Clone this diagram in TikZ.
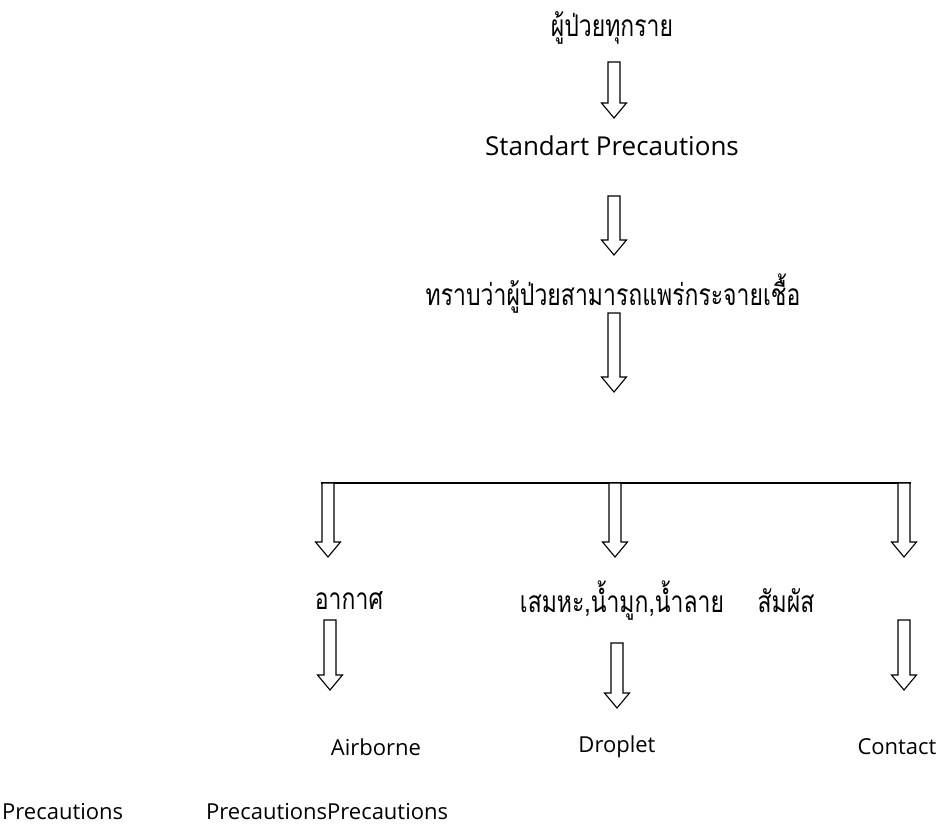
\documentclass[tikz,border=0pt]{standalone}
\usepackage{fontspec}
\setmainfont{Open Sans}
\newfontfamily\thaifont[Script=Thai]{Loma}
\newcommand\thtext[1]{\scalebox{1}[1.3]{#1}}
\begin{document}
\begin{tikzpicture}[x=1pt,y=-1pt,
  lat/.style={font=\fontsize{26}{30}\selectfont, inner sep=0pt},
  latb/.style={font=\fontsize{22}{26}\selectfont, inner sep=0pt},
  tha/.style={font=\thaifont\fontsize{23}{27}\selectfont, inner sep=0pt},
  arrowline/.style={draw=black, fill=white, line width=1.1pt, line join=miter}]
\useasboundingbox (0,0) rectangle (938,840);
\newcommand\blkarrow[3]{%
  \draw[arrowline] (#1-6,#2) -- (#1+6,#2) -- (#1+6,#3-15) -- (#1+12.5,#3-15)
    -- (#1,#3) -- (#1-12.5,#3-15) -- (#1-6,#3-15) -- cycle;}
% texts
\node[tha] (n1) at (612,28) {\thtext{ผู้ป่วยทุกราย}};
\node[lat] (n2) at (612,146) {Standart Precautions};
\node[tha] (n3) at (613,294) {\thtext{ทราบว่าผู้ป่วยสามารถแพร่กระจายเชื้อ}};
\node[tha] (t1) at (349,601) {\thtext{อากาศ}};
\node[tha] (t2) at (622,601) {\thtext{เสมหะ,น้ำมูก,น้ำลาย}};
\node[tha] (t3) at (786,601) {\thtext{สัมผัส}};
\node[latb] (p1) at (376,747) {Airborne};
\node[latb] (p2) at (617,747) {Droplet};
\node[latb] (p3) at (897,747) {Contact};
\node[latb, anchor=west] (q1) at (2,812) {Precautions};
\node[latb, anchor=west] (q2) at (206,812) {PrecautionsPrecautions};
% arrows
\blkarrow{614}{62}{118}
\blkarrow{614}{196}{255}
\blkarrow{614}{313}{392}
\coordinate (bl) at (321,483);
\coordinate (br) at (911,483);
\draw[line width=1.1pt] (bl) -- (br);
\blkarrow{328}{483}{557}
\blkarrow{615}{483}{557}
\blkarrow{904}{483}{557}
\blkarrow{330}{620}{690}
\blkarrow{617}{643}{708}
\blkarrow{904}{620}{690}
\end{tikzpicture}
\end{document}
